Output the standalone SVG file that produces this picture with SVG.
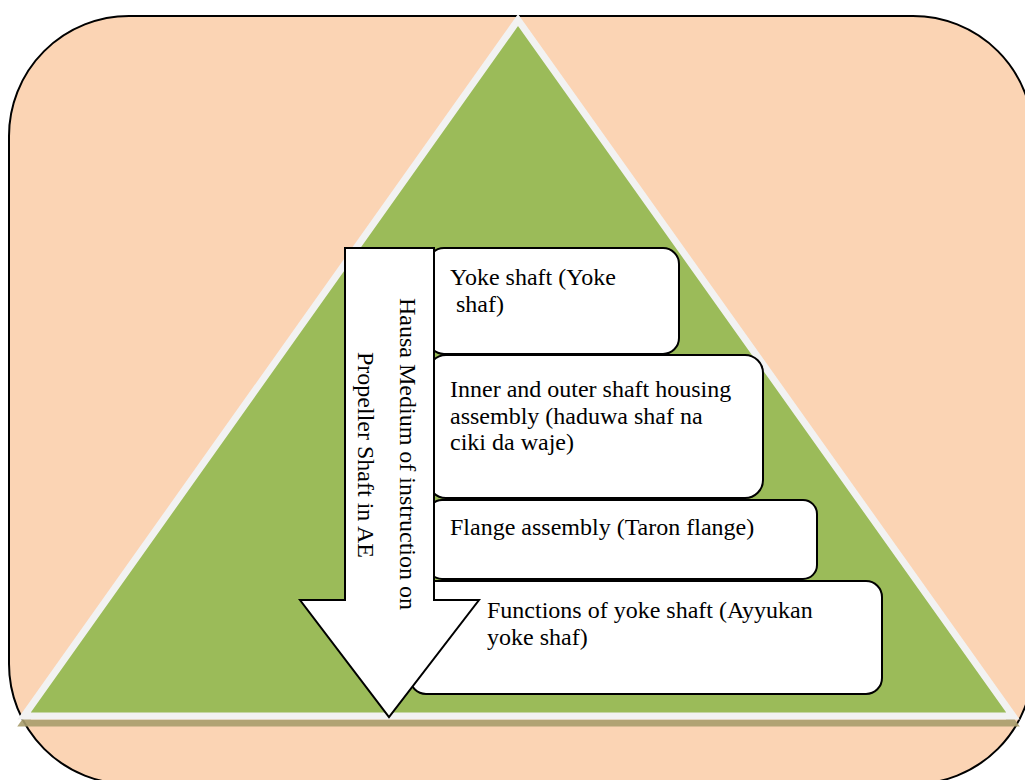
<svg xmlns="http://www.w3.org/2000/svg" width="1025" height="780" viewBox="0 0 1025 780">
<style>
.box{fill:#ffffff;stroke:#000000;stroke-width:2}
.t{font-family:"Liberation Serif","Times New Roman",serif;font-size:24px;fill:#000000}
</style>
<rect width="1025" height="780" fill="#ffffff"/>
<g id="background">
<rect x="9" y="16" width="1024" height="768" rx="120" ry="120" fill="#fbd4b4" stroke="#000000" stroke-width="2"/>
</g>
<g id="pyramid">
<polygon points="518,27 24,723 1013,723" fill="none" stroke="#a89d6d" stroke-width="7" opacity="0.9"/>
<polygon points="518,20 24,716 1013,716" fill="#9bbb59" stroke="#f2f2f2" stroke-width="7"/>
</g>
<g id="box1">
<rect x="428" y="248" width="251" height="106" rx="16" ry="16" class="box"/>
<text class="t" x="450" y="285">Yoke shaft (Yoke</text>
<text class="t" x="456" y="312">shaf)</text>
</g>
<g id="box2">
<rect x="428" y="355" width="335" height="143" rx="18" ry="18" class="box"/>
<text class="t" x="450" y="397">Inner and outer shaft housing</text>
<text class="t" x="450" y="424">assembly (haduwa shaf na</text>
<text class="t" x="450" y="450">ciki da waje)</text>
</g>
<g id="box3">
<rect x="428" y="500" width="389" height="79" rx="14" ry="14" class="box"/>
<text class="t" x="450" y="535">Flange assembly (Taron flange)</text>
</g>
<g id="box4">
<rect x="410" y="581" width="472" height="113" rx="16" ry="16" class="box"/>
<text class="t" x="487" y="618">Functions of yoke shaft (Ayyukan</text>
<text class="t" x="487" y="645">yoke shaf)</text>
</g>
<g id="arrow">
<polygon points="345,248 434,248 434,600 479,600 389,717 300,600 345,600" fill="#ffffff" stroke="#000000" stroke-width="2" stroke-linejoin="miter"/>
<text class="t" text-anchor="middle" transform="translate(400,454) rotate(90)">Hausa Medium of instruction on</text>
<text class="t" text-anchor="middle" transform="translate(358,455) rotate(90)">Propeller Shaft in AE</text>
</g>
<g id="connectors"></g>
</svg>
